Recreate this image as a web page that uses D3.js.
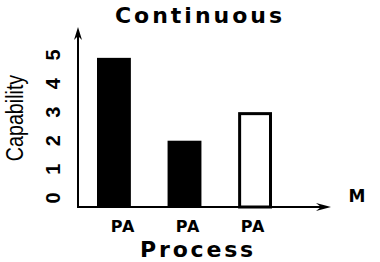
<!DOCTYPE html>
<html>
<head>
<meta charset="utf-8">
<script src="https://cdn.jsdelivr.net/npm/d3@7"></script>
<style>
  body { margin: 0; background: #fff; }
  text { fill: #000; }
</style>
</head>
<body>
<svg id="chart" width="380" height="262"></svg>
<script>
// chart data
const categories = ['PA1', 'PA2', 'PA3']
const catLabels = ['PA', 'PA', 'PA']
const capability = [4.9, 2.0, 3.0]
const filled = [true, true, false]
const yTicks = [0, 1, 2, 3, 4, 5]

const svg = d3.select('#chart')

const axisX = 78
const axisY = 207

// scales
let x = d3.scaleBand().domain(categories).range([97, 272]).paddingInner(0.52).paddingOuter(0)
let y = d3.scaleLinear().domain([-0.32, 5]).range([axisY, 55])
let xl = d3.scalePoint().domain(categories).range([123, 253])

// bars
svg
  .selectAll('.bar')
  .data(categories)
  .enter()
  .append('rect')
  .attr('class', 'bar')
  .attr('x', (d, i) => {
    return filled[i] ? x(d) : x(d) + 1.5
  })
  .attr('y', (d, i) => {
    return filled[i] ? y(capability[i]) : y(capability[i]) + 1.5
  })
  .attr('width', (d, i) => {
    return filled[i] ? x.bandwidth() : x.bandwidth() - 3
  })
  .attr('height', (d, i) => {
    return filled[i] ? axisY - y(capability[i]) : axisY - y(capability[i]) - 1.5
  })
  .style('fill', (d, i) => (filled[i] ? '#000' : '#fff'))
  .style('stroke', (d, i) => (filled[i] ? 'none' : '#000'))
  .style('stroke-width', 3)

// axes lines with arrows
svg
  .append('line')
  .attr('x1', axisX)
  .attr('y1', axisY + 1)
  .attr('x2', axisX)
  .attr('y2', 34)
  .attr('stroke', '#000')
  .attr('stroke-width', 2)
svg
  .append('path')
  .attr('d', `M${axisX},27 L${axisX - 4},40 L${axisX},36 L${axisX + 4},40 Z`)
  .attr('fill', '#000')

svg
  .append('line')
  .attr('x1', axisX - 1)
  .attr('y1', axisY)
  .attr('x2', 322)
  .attr('y2', axisY)
  .attr('stroke', '#000')
  .attr('stroke-width', 2)
svg
  .append('path')
  .attr('d', `M331,${axisY} L316,${axisY - 4} L321,${axisY} L316,${axisY + 4} Z`)
  .attr('fill', '#000')

// y tick labels (rotated)
svg
  .selectAll('.ytick')
  .data(yTicks)
  .enter()
  .append('text')
  .attr('class', 'ytick')
  .attr('transform', (d) => `translate(53,${y(d)}) rotate(-90)`)
  .attr('text-anchor', 'middle')
  .attr('dy', '0.35em')
  .style('font-family', 'Liberation Sans')
  .style('font-size', '20px')
  .style('font-weight', 'bold')
  .text((d) => d)

// y label (condensed)
svg
  .append('text')
  .attr('transform', 'translate(23,118) rotate(-90) scale(0.82,1)')
  .attr('text-anchor', 'middle')
  .style('font-family', 'Liberation Sans')
  .style('font-size', '24px')
  .text('Capability')

// x category labels
svg
  .selectAll('.xlab')
  .data(categories)
  .enter()
  .append('text')
  .attr('class', 'xlab')
  .attr('x', (d) => xl(d))
  .attr('y', 232)
  .attr('text-anchor', 'middle')
  .style('font-family', 'DejaVu Sans')
  .style('font-weight', 'bold')
  .style('font-size', '16px')
  .style('letter-spacing', '1px')
  .text((d, i) => catLabels[i])

// M
svg
  .append('text')
  .attr('x', 357)
  .attr('y', 202)
  .attr('text-anchor', 'middle')
  .style('font-family', 'DejaVu Sans')
  .style('font-weight', 'bold')
  .style('font-size', '17px')
  .text('M')

// title
svg
  .append('text')
  .attr('x', 200)
  .attr('y', 23)
  .attr('text-anchor', 'middle')
  .style('font-family', 'DejaVu Sans')
  .style('font-weight', 'bold')
  .style('font-size', '22px')
  .style('letter-spacing', '3px')
  .text('Continuous')

// x title
svg
  .append('text')
  .attr('x', 198)
  .attr('y', 257)
  .attr('text-anchor', 'middle')
  .style('font-family', 'DejaVu Sans')
  .style('font-weight', 'bold')
  .style('font-size', '22px')
  .style('letter-spacing', '2.8px')
  .text('Process')
</script>
</body>
</html>
